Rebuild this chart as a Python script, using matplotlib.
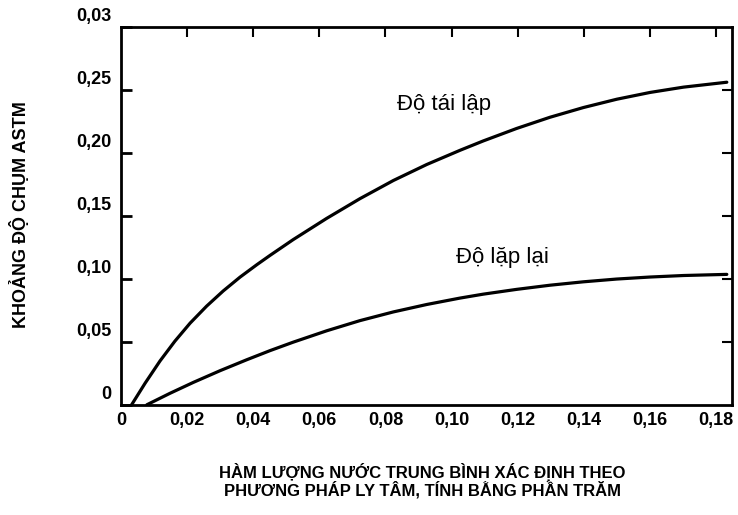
import matplotlib
matplotlib.use('Agg')
import matplotlib.pyplot as plt
import matplotlib.transforms as mtransforms

plt.rcParams['font.family'] = ['Liberation Sans', 'DejaVu Sans']

# values
x_tai_lap = [0.0032, 0.0073, 0.0118, 0.0163, 0.0209, 0.0259, 0.0309, 0.0360,
             0.0411, 0.0451, 0.0521, 0.0622, 0.0723, 0.0824, 0.0925, 0.1026,
             0.1096, 0.1197, 0.1298, 0.1399, 0.1500, 0.1601, 0.1702, 0.1833]
y_tai_lap = [0.0, 0.0172, 0.0348, 0.0505, 0.0648, 0.0783, 0.0903, 0.1013,
             0.1112, 0.1186, 0.1311, 0.1479, 0.1636, 0.1780, 0.1907, 0.2020,
             0.2094, 0.2193, 0.2282, 0.2359, 0.2425, 0.2479, 0.2521, 0.2560]

x_lap_lai = [0.0078, 0.0148, 0.0219, 0.0300, 0.0380, 0.0451, 0.0521, 0.0622,
             0.0723, 0.0824, 0.0925, 0.1026, 0.1096, 0.1197, 0.1298, 0.1399,
             0.1500, 0.1601, 0.1702, 0.1833]
y_lap_lai = [0.0, 0.0091, 0.0178, 0.0271, 0.0357, 0.0430, 0.0497, 0.0587,
             0.0668, 0.0737, 0.0796, 0.0847, 0.0878, 0.0916, 0.0949, 0.0976,
             0.0998, 0.1014, 0.1026, 0.1035]

x_ticks = [0, 0.02, 0.04, 0.06, 0.08, 0.10, 0.12, 0.14, 0.16, 0.18]
x_ticklabels = ['0', '0,02', '0,04', '0,06', '0,08', '0,10', '0,12', '0,14', '0,16', '0,18']
y_ticks = [0, 0.05, 0.10, 0.15, 0.20, 0.25, 0.30]
y_ticklabels = ['0', '0,05', '0,10', '0,15', '0,20', '0,25', '0,03']

fig = plt.figure(figsize=(7.38, 5.15), dpi=100)
ax = fig.add_axes([0.164, 0.214, 0.828, 0.734])

ax.plot(x_tai_lap, y_tai_lap, color='black', lw=2.3, solid_capstyle='round',
        solid_joinstyle='round')
ax.plot(x_lap_lai, y_lap_lai, color='black', lw=2.3, solid_capstyle='round',
        solid_joinstyle='round')

ax.set_xlim(0, 0.1849)
ax.set_ylim(0, 0.30)

for s in ax.spines.values():
    s.set_linewidth(2)

ax.set_xticks(x_ticks)
ax.set_xticklabels(x_ticklabels, fontsize=13, fontweight='bold')
ax.tick_params(axis='x', length=0, pad=5)
ax.set_yticks(y_ticks)
ax.set_yticklabels(y_ticklabels, fontsize=13, fontweight='bold')
ax.tick_params(axis='y', direction='in', length=8, width=2, pad=7)

# labels sit a bit above their ticks, as in the scan
offset = mtransforms.ScaledTranslation(0, 12 / 100, fig.dpi_scale_trans)
for lbl in ax.get_yticklabels():
    lbl.set_transform(lbl.get_transform() + offset)

top = ax.secondary_xaxis('top')
top.set_xticks(x_ticks[1:])
top.set_xticklabels([])
top.tick_params(direction='in', length=7, width=1.5)
top.spines['top'].set_visible(False)

right = ax.secondary_yaxis('right')
right.set_yticks(y_ticks[1:-1])
right.set_yticklabels([])
right.tick_params(direction='in', length=7, width=1.5)
right.spines['right'].set_visible(False)

ax.text(0.0977, 0.238, 'Độ tái lập', fontsize=16, ha='center', va='center')
ax.text(0.1153, 0.1167, 'Độ lặp lại', fontsize=16, ha='center', va='center')

fig.text(0.027, 0.584, 'KHOẢNG ĐỘ CHỤM ASTM', rotation=90, fontsize=13,
         fontweight='bold', ha='center', va='center')
fig.text(0.572, 0.067, 'HÀM LƯỢNG NƯỚC TRUNG BÌNH XÁC ĐỊNH THEO\n'
         'PHƯƠNG PHÁP LY TÂM, TÍNH BẰNG PHẦN TRĂM',
         fontsize=12, fontweight='bold', ha='center', va='center',
         linespacing=1.0)

fig.savefig('out.png', dpi=100)
